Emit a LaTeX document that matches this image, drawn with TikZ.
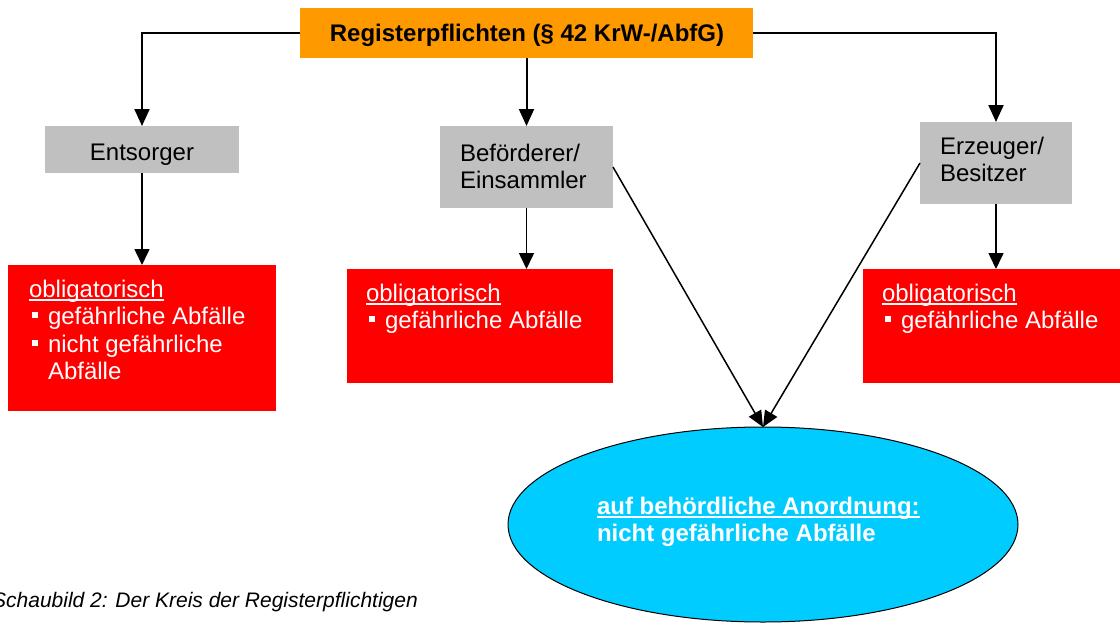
\documentclass[tikz,border=0pt]{standalone}
\usepackage{fontspec}
\setmainfont{Liberation Sans}
\usetikzlibrary{shapes.geometric,arrows.meta}
\definecolor{orng}{HTML}{FF9900}
\definecolor{gry}{HTML}{C0C0C0}
\definecolor{rd}{HTML}{FF0000}
\definecolor{cyn}{HTML}{00CCFF}
\newcommand\ulx[1]{\setbox0\hbox{#1}\rlap{\rule[-3.5pt]{\wd0}{1.6pt}}\box0}
\newcommand\bul{\hspace*{3pt}\makebox[16pt][l]{\rule[6pt]{6pt}{6pt}}}
\begin{document}
\begin{tikzpicture}[x=1pt,y=-1pt,
  box/.style={rectangle,inner sep=0pt,outer sep=0pt,anchor=north west},
  txt/.style={inner sep=0pt,outer sep=0pt,anchor=base west,font=\fontsize{24}{28}\selectfont},
  wtxt/.style={txt,text=white},
  conn/.style={line width=2pt,-{Triangle[length=17pt,width=15pt]}},
  conn2/.style={line width=1.6pt,-{Triangle[length=16pt,width=15pt]}},
  diag/.style={line width=1.5pt,-{Triangle[length=16pt,width=14pt]}}]
\useasboundingbox (0,0) rectangle (1120,624);
% boxes
\node[box,fill=orng,minimum width=453pt,minimum height=50pt] (top) at (300,8) {};
\node[box,fill=gry,minimum width=194pt,minimum height=47pt] (ent) at (45,126) {};
\node[box,fill=gry,minimum width=173pt,minimum height=82pt] (bef) at (440,126) {};
\node[box,fill=gry,minimum width=152pt,minimum height=82pt] (erz) at (920,122) {};
\node[box,fill=rd,minimum width=268pt,minimum height=146pt] (r1) at (8,265) {};
\node[box,fill=rd,minimum width=266pt,minimum height=114pt] (r2) at (347,269) {};
\node[box,fill=rd,minimum width=257pt,minimum height=114pt] (r3) at (863,269) {};
\node[ellipse,draw=black,line width=1pt,fill=cyn,inner sep=0pt,outer sep=0pt,
      minimum width=510pt,minimum height=195pt] (ell) at (763,524.5) {};
% texts
\node[txt,anchor=base] (toptxt) at (527,41) {\bfseries Registerpflichten (§ 42 KrW-/AbfG)};
\node[txt,anchor=base] (enttxt) at (142,160) {Entsorger};
\node[txt] (befa) at (460,161) {Beförderer/};
\node[txt] (befb) at (460,188) {Einsammler};
\node[txt] (erza) at (940,154) {Erzeuger/};
\node[txt] (erzb) at (940,181) {Besitzer};
\node[wtxt] (r1a) at (29,297) {\ulx{obligatorisch}};
\node[wtxt] (r1b) at (29,324) {\bul gefährliche Abfälle};
\node[wtxt] (r1c) at (29,352) {\bul nicht gefährliche};
\node[wtxt] (r1d) at (48,379) {Abfälle};
\node[wtxt] (r2a) at (366,301) {\ulx{obligatorisch}};
\node[wtxt] (r2b) at (366,328) {\bul gefährliche Abfälle};
\node[wtxt] (r3a) at (882,301) {\ulx{obligatorisch}};
\node[wtxt] (r3b) at (882,328) {\bul gefährliche Abfälle};
\node[wtxt] (ella) at (597,514) {\bfseries\ulx{auf behördliche Anordnung:}};
\node[wtxt] (ellb) at (597,541) {\bfseries nicht gefährliche Abfälle};
\node[inner sep=0pt,anchor=base east,font=\fontsize{21}{25}\selectfont\itshape] (cap) at (418,607) {Schaubild 2: Der Kreis der Registerpflichtigen};
% connectors
\draw[conn] (top.west) -| (ent.north);
\draw[conn] (top.south) -- (bef.north);
\draw[conn] (top.east) -| (erz.north);
\draw[conn2] (ent.south) -- (r1.north);
\draw[conn2] (bef.south) -- (bef.south |- r2.north);
\draw[conn2] (erz.south) -- (erz.south |- r3.north);
\draw[diag] (bef.east) -- (ell.north);
\draw[diag] (erz.west) -- (ell.north);
\end{tikzpicture}
\end{document}
